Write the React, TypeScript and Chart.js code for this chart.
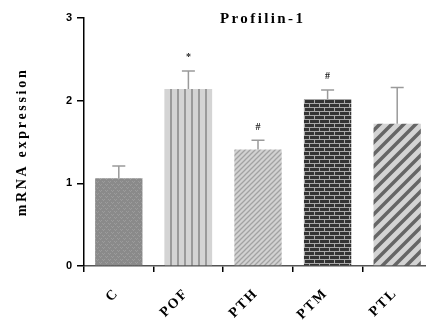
import React, { useEffect, useRef } from "react";
import { Chart, registerables } from "chart.js";

Chart.register(...registerables);

const categories = ["C", "POF", "PTH", "PTM", "PTL"];
const means = [1.06, 2.14, 1.41, 2.02, 1.72];
const errors = [0.15, 0.22, 0.11, 0.11, 0.44];
const marks = ["", "*", "#", "#", ""];
const yTicks = [0, 1, 2, 3];
const title = "Profilin-1";
const yTitle = "mRNA expression";

function makeTile(w: number, h: number, draw: (c: CanvasRenderingContext2D) => void) {
  const cv = document.createElement("canvas");
  cv.width = w;
  cv.height = h;
  const c = cv.getContext("2d")!;
  draw(c);
  const ctx = document.createElement("canvas").getContext("2d")!;
  return ctx.createPattern(cv, "repeat")!;
}

function makePatterns() {
  const pC = makeTile(6, 6, (c) => {
    c.fillStyle = "#8a8a8a";
    c.fillRect(0, 0, 6, 6);
    c.fillStyle = "#9c9c9c";
    c.fillRect(0, 1, 1, 1);
    c.fillRect(1, 2, 1, 1);
    c.fillRect(2, 1, 1, 1);
    c.fillRect(3, 4, 1, 1);
    c.fillRect(4, 5, 1, 1);
    c.fillRect(5, 4, 1, 1);
  });
  const pPOF = makeTile(7, 7, (c) => {
    c.fillStyle = "#d4d4d4";
    c.fillRect(0, 0, 7, 7);
    c.fillStyle = "#9a9a9a";
    c.fillRect(2, 0, 2, 7);
  });
  const pPTH = makeTile(5, 5, (c) => {
    c.fillStyle = "#d2d2d2";
    c.fillRect(0, 0, 5, 5);
    c.strokeStyle = "#a2a2a2";
    c.lineWidth = 1.3;
    c.beginPath();
    c.moveTo(-1, 6);
    c.lineTo(6, -1);
    c.moveTo(-1, 1);
    c.lineTo(1, -1);
    c.moveTo(4, 6);
    c.lineTo(6, 4);
    c.stroke();
  });
  const pPTM = makeTile(10, 8, (c) => {
    c.fillStyle = "#a8a8a8";
    c.fillRect(0, 0, 10, 8);
    c.fillStyle = "#333333";
    c.fillRect(0, 0, 9, 3);
    c.fillRect(0, 4, 4, 3);
    c.fillRect(5, 4, 5, 3);
  });
  const pPTL = makeTile(12, 12, (c) => {
    c.fillStyle = "#d4d4d4";
    c.fillRect(0, 0, 12, 12);
    c.strokeStyle = "#666666";
    c.lineWidth = 3.5;
    c.beginPath();
    c.moveTo(-2, 14);
    c.lineTo(14, -2);
    c.moveTo(-2, 2);
    c.lineTo(2, -2);
    c.moveTo(10, 14);
    c.lineTo(14, 10);
    c.stroke();
  });
  return [pC, pPOF, pPTH, pPTM, pPTL];
}

const decorPlugin = {
  id: "decor",
  afterDatasetsDraw(chart: any) {
    const ctx: CanvasRenderingContext2D = chart.ctx;
    const meta = chart.getDatasetMeta(0);
    const y = chart.scales.y;
    const x = chart.scales.x;
    ctx.save();
    // error bars
    ctx.strokeStyle = "#9a9a9a";
    ctx.lineWidth = 1.5;
    meta.data.forEach((bar: any, i: number) => {
      const top = y.getPixelForValue(means[i] + errors[i]);
      const base = y.getPixelForValue(means[i]);
      ctx.beginPath();
      ctx.moveTo(bar.x, base);
      ctx.lineTo(bar.x, top);
      ctx.moveTo(bar.x - 6.5, top);
      ctx.lineTo(bar.x + 6.5, top);
      ctx.stroke();
      if (marks[i]) {
        ctx.fillStyle = "#222";
        ctx.font = "bold 10px 'Liberation Serif'";
        ctx.textAlign = "center";
        ctx.textBaseline = "bottom";
        ctx.fillText(marks[i], bar.x, top - 8);
      }
    });
    // x labels
    ctx.fillStyle = "#000";
    ctx.font = "bold 14px 'Liberation Serif'";
    (ctx as any).letterSpacing = "2px";
    categories.forEach((lab, i) => {
      const px = x.getPixelForValue(i);
      ctx.save();
      ctx.translate(px - 2, 291);
      ctx.rotate(-Math.PI / 4);
      ctx.textAlign = "right";
      ctx.textBaseline = "middle";
      ctx.fillText(lab, 0, 0);
      ctx.restore();
    });
    // title
    ctx.font = "bold 15px 'Liberation Serif'";
    (ctx as any).letterSpacing = "2.4px";
    ctx.textAlign = "left";
    ctx.textBaseline = "alphabetic";
    ctx.fillText(title, 220, 23);
    // y title
    ctx.font = "bold 14px 'Liberation Serif'";
    (ctx as any).letterSpacing = "2.7px";
    ctx.translate(22, (y.top + y.bottom) / 2);
    ctx.rotate(-Math.PI / 2);
    ctx.textAlign = "center";
    ctx.textBaseline = "middle";
    ctx.fillText(yTitle, 0, 0);
    (ctx as any).letterSpacing = "0px";
    ctx.restore();
  },
};

export default function App() {
  const ref = useRef<HTMLCanvasElement>(null);
  useEffect(() => {
    const patterns = makePatterns();
    const chart = new Chart(ref.current!, {
      type: "bar",
      data: {
        labels: categories,
        datasets: [
          {
            data: means,
            backgroundColor: patterns as any,
            borderWidth: 0,
            barPercentage: 0.68,
            categoryPercentage: 1,
          },
        ],
      },
      options: {
        animation: false,
        responsive: false,
        devicePixelRatio: 1,
        layout: { padding: { top: 18, left: 0, right: 0, bottom: 0 } },
        plugins: { legend: { display: false }, tooltip: { enabled: false }, title: { display: false } },
        scales: {
          x: {
            type: "category",
            offset: true,
            grid: { display: true, drawOnChartArea: false, drawTicks: true, tickLength: 6, color: "#000", lineWidth: 1.5 },
            border: { display: true, color: "#555", width: 1.5 },
            ticks: { display: false },
            afterFit: (s: any) => {
              s.height = 59;
            },
          },
          y: {
            min: 0,
            max: 3,
            afterBuildTicks: (s: any) => {
              s.ticks = yTicks.map((v) => ({ value: v }));
            },
            ticks: {
              stepSize: 1,
              padding: 5,
              color: "#000",
              font: { family: "'Liberation Sans'", size: 11, weight: "bold" },
            },
            grid: { display: true, drawOnChartArea: false, drawTicks: true, tickLength: 7, color: "#000", lineWidth: 1.5 },
            border: { display: true, color: "#000", width: 1.5 },
            afterFit: (s: any) => {
              s.width = 84;
            },
          },
        },
      },
      plugins: [decorPlugin],
    });
    return () => chart.destroy();
  }, []);
  return (
    <div style={{ position: "absolute", left: 0, top: 0, width: 426, height: 325, overflow: "hidden", background: "#fff" }}>
      <canvas ref={ref} width={432} height={325} style={{ display: "block" }} />
    </div>
  );
}
